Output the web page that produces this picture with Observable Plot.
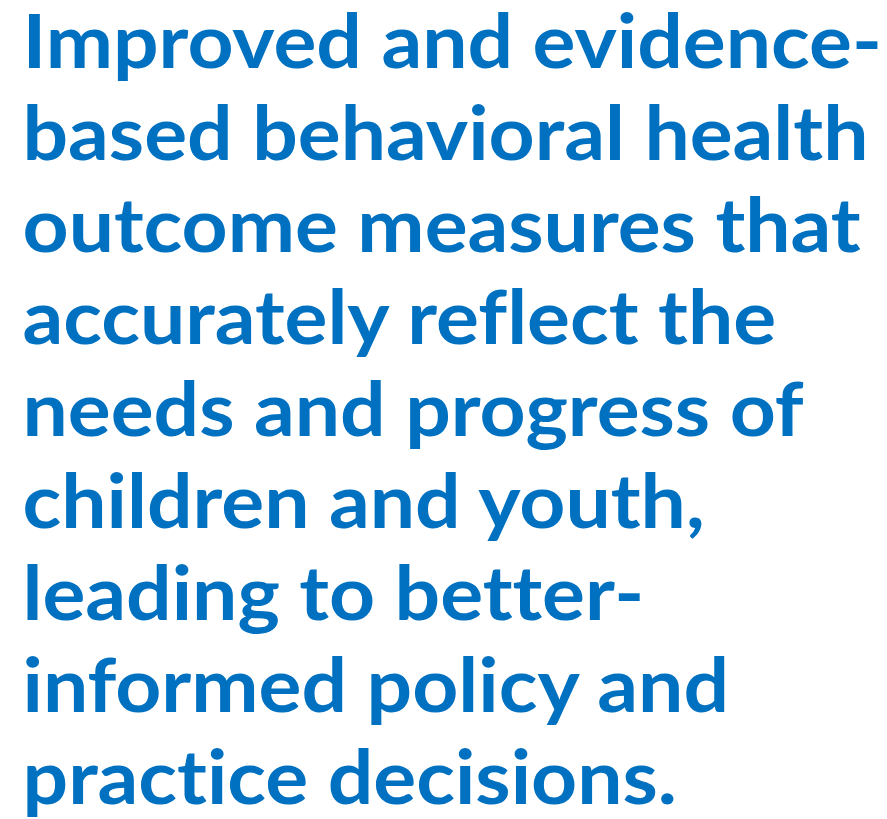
<!DOCTYPE html>
<html>
<head>
<meta charset="utf-8">
<script src="https://cdn.jsdelivr.net/npm/d3@7"></script>
<script src="https://cdn.jsdelivr.net/npm/@observablehq/plot@0.6"></script>
<style>
  html, body { margin: 0; padding: 0; background: #ffffff; }
  svg text { font-variant-ligatures: none; font-feature-settings: "liga" 0, "clig" 0; }
</style>
</head>
<body>
<div id="chart"></div>
<script>
const lines = [
  "Improved and evidence-",
  "based behavioral health",
  "outcome measures that",
  "accurately reflect the",
  "needs and progress of",
  "children and youth,",
  "leading to better-",
  "informed policy and",
  "practice decisions."
];
const lineIndex = lines.map((_, i) => i);

const chart = Plot.plot({
  width: 887,
  height: 819,
  margin: 0,
  x: {axis: null},
  y: {type: "point", domain: lineIndex, range: [66, 803], padding: 0, axis: null},
  marks: [
    Plot.text(lines, {
      y: (d, i) => i,
      text: d => d,
      frameAnchor: "left",
      textAnchor: "start",
      lineAnchor: "bottom",
      dx: 22,
      fill: "#0070C0",
      fontSize: 75,
      fontWeight: "bold",
      fontFamily: "Lato, 'Open Sans', sans-serif"
    })
  ]
});
document.getElementById("chart").appendChild(chart);

// Condense glyphs horizontally to mimic a narrower (Calibri-like) face.
const texts = Array.from(chart.querySelectorAll("text"));
const ref = texts.find(t => t.textContent === "based behavioral health");
const ratio = ref ? 846 / ref.getComputedTextLength() : 1;
texts.forEach(t => {
  const len = t.getComputedTextLength();
  t.setAttribute("textLength", (len * ratio).toFixed(1));
  t.setAttribute("lengthAdjust", "spacingAndGlyphs");
});
</script>
</body>
</html>
